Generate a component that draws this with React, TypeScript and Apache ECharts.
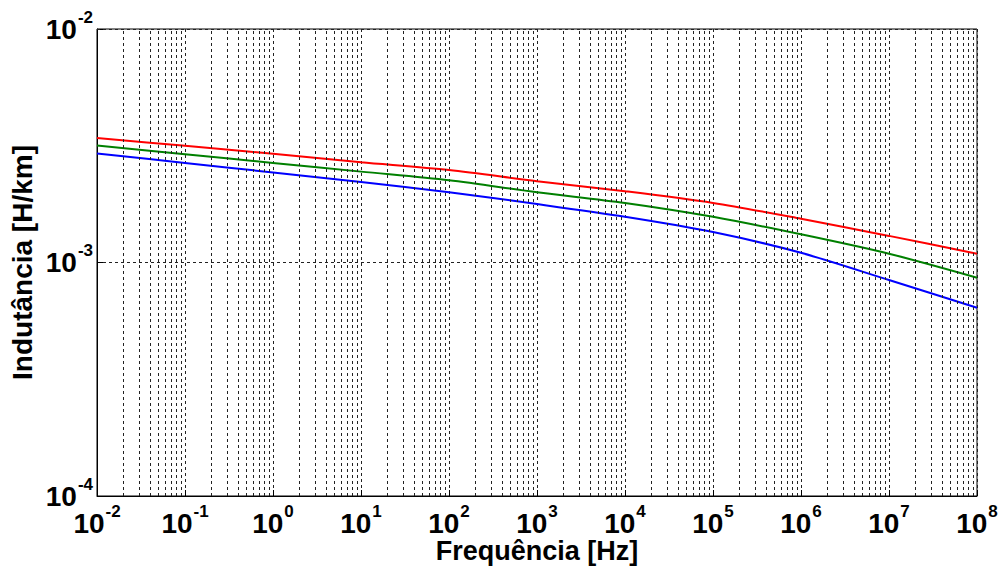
import React, { useEffect, useRef } from "react";
import * as echarts from "echarts";

const freqs = [1e-2, 1e-1, 1e0, 1e1, 1e2, 1e3, 1e4, 1e5, 1e6, 1e7, 1e8];
const redVals = [3.41e-3, 3.16e-3, 2.92e-3, 2.69e-3, 2.49e-3, 2.23e-3, 2.02e-3, 1.8e-3, 1.54e-3, 1.3e-3, 1.09e-3];
const greenVals = [3.17e-3, 2.91e-3, 2.67e-3, 2.45e-3, 2.25e-3, 2.0e-3, 1.8e-3, 1.57e-3, 1.32e-3, 1.09e-3, 8.61e-4];
const blueVals = [2.93e-3, 2.67e-3, 2.43e-3, 2.21e-3, 2.0e-3, 1.78e-3, 1.57e-3, 1.35e-3, 1.1e-3, 8.41e-4, 6.4e-4];

const xDecades = [-2, -1, 0, 1, 2, 3, 4, 5, 6, 7];
const yDecades = [-4, -3];
const minorMult = [2, 3, 4, 5, 6, 7, 8, 9];

const FONT = "'Liberation Sans', Arial, sans-serif";

export default function App() {
  const ref = useRef<HTMLDivElement>(null);
  useEffect(() => {
    if (!ref.current) return;
    const chart = echarts.init(ref.current, null, { renderer: "svg" });
    const xMinor: any[] = [];
    xDecades.forEach((d) => minorMult.forEach((m) => xMinor.push({ xAxis: m * Math.pow(10, d) })));
    const yMinor: any[] = [];
    yDecades.forEach((d) => minorMult.forEach((m) => yMinor.push({ yAxis: m * Math.pow(10, d) })));
    const gridStyle = { type: [3, 3] as any, color: "#222", width: 1 };
    const rich = {
      b: { fontSize: 28, fontWeight: "bold", fontFamily: FONT, color: "#000", lineHeight: 28 },
      s: { fontSize: 17, fontWeight: "bold", fontFamily: FONT, color: "#000", lineHeight: 17, padding: [0, 0, 24, 1] },
    };
    const fmt = (v: number) => `{b|10}{s|${Math.round(Math.log10(v))}}`;
    const mk = (vals: number[]) => freqs.map((f, i) => [f, vals[i]]);
    chart.setOption({
      animation: false,
      backgroundColor: "#fff",
      grid: {
        left: 97,
        right: 23,
        top: 29,
        bottom: 75,
        show: true,
        borderColor: "#000",
        borderWidth: 1,
        containLabel: false,
        outerBoundsMode: "none",
      },
      xAxis: {
        type: "log",
        logBase: 10,
        min: 1e-2,
        max: 1e8,
        interval: 1,
        name: "Frequência [Hz]",
        nameLocation: "middle",
        nameGap: 55,
        nameMoveOverlap: false,
        nameTextStyle: { fontSize: 27, fontWeight: "bold", fontFamily: FONT, color: "#000", verticalAlign: "middle" },
        axisLine: { lineStyle: { color: "#000", width: 1 } },
        axisTick: { inside: true, length: 6, lineStyle: { color: "#000" } },
        axisLabel: { formatter: fmt, rich, margin: 13 },
        splitLine: { show: true, lineStyle: gridStyle },
      },
      yAxis: {
        type: "log",
        logBase: 10,
        min: 1e-4,
        max: 1e-2,
        interval: 1,
        name: "Indutância [H/km]",
        nameLocation: "middle",
        nameGap: 75,
        nameMoveOverlap: false,
        nameTextStyle: { fontSize: 28, fontWeight: "bold", fontFamily: FONT, color: "#000", verticalAlign: "middle" },
        axisLine: { lineStyle: { color: "#000", width: 1 } },
        axisTick: { inside: true, length: 6, lineStyle: { color: "#000" } },
        axisLabel: { formatter: fmt, rich, margin: 4 },
        splitLine: { show: true, lineStyle: gridStyle },
      },
      series: [
        {
          type: "line",
          data: [],
          silent: true,
          markLine: {
            silent: true,
            symbol: "none",
            label: { show: false },
            lineStyle: gridStyle,
            data: [...xMinor, ...yMinor],
          },
        },
        { type: "line", data: mk(redVals), smooth: 0.3, showSymbol: false, lineStyle: { color: "#ff0000", width: 2 }, itemStyle: { color: "#ff0000" } },
        { type: "line", data: mk(greenVals), smooth: 0.3, showSymbol: false, lineStyle: { color: "#008000", width: 2 }, itemStyle: { color: "#008000" } },
        { type: "line", data: mk(blueVals), smooth: 0.3, showSymbol: false, lineStyle: { color: "#0000ff", width: 2 }, itemStyle: { color: "#0000ff" } },
      ],
    });
    return () => chart.dispose();
  }, []);
  return <div ref={ref} style={{ width: 1000, height: 571, position: "absolute", left: 0, top: 0 }} />;
}
